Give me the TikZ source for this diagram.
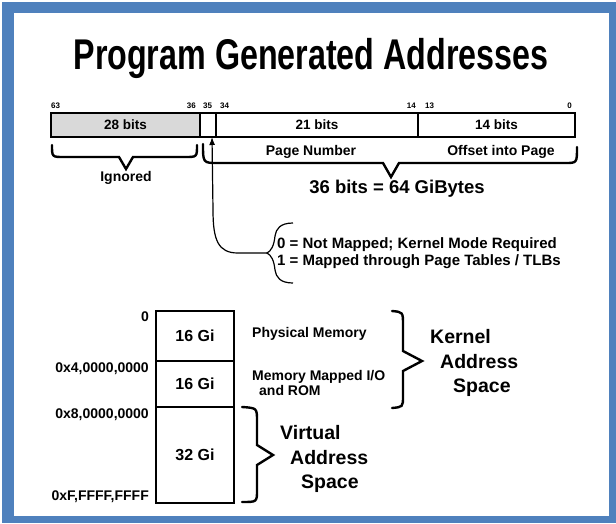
\documentclass[tikz,border=0pt]{standalone}
\usepackage{fontspec}
\setmainfont{Liberation Sans}
\usetikzlibrary{arrows.meta,positioning}
\definecolor{frameblue}{RGB}{79,129,189}
\tikzset{
	field/.style={draw, line width=1.5pt, outer sep=0pt, inner sep=0pt, minimum height=24pt, font=\fontsize{13.5}{16}\bfseries},
	cell/.style={draw, line width=1.2pt, outer sep=0pt, inner sep=0pt, minimum width=78pt, font=\fontsize{16}{18}\bfseries},
	bitno/.style={inner sep=0pt, font=\fontsize{8}{9}\bfseries},
	lbl/.style={inner sep=0pt, font=\fontsize{14}{16}\bfseries},
	addr/.style={inner sep=0pt, anchor=east, font=\fontsize{14}{16}\bfseries},
	side/.style={inner sep=0pt, anchor=west, align=left, font=\fontsize{19.5}{24.5}\bfseries},
	brace/.style={line width=2.4pt, line cap=round},
	outline/.style={line width=2.6pt}
}

\begin{document}
\begin{tikzpicture}[x=1pt, y=-1pt]
			%%%%% START %%%%%
			
			\fill[white] (0,0) rectangle (616,523);
			\fill[frameblue] (2,2) rectangle (616,523);
			\fill[white] (14,13) rectangle (609,516);
			\useasboundingbox (0,0) rectangle (616,523);
			
			\node[inner sep=0pt, anchor=base, font=\fontsize{43}{43}\bfseries] (title) at (311,69) {\scalebox{0.75}[1]{Program Generated Addresses}};
			
			% the address register
			\node[field, fill=black!15, minimum width=149pt] (ign) at (125.5,125) {28 bits};
			\node[field, minimum width=16pt, right=0pt of ign] (b35) {};
			\node[field, minimum width=202pt, right=0pt of b35] (pgn) {21 bits};
			\node[field, minimum width=157pt, right=0pt of pgn] (ofs) {14 bits};
			
			\node[bitno, anchor=base west] (n63) at (51,108) {63};
			\node[bitno, anchor=base east] (n36) at (196,108) {36};
			\node[bitno, anchor=base west] (n35) at (203,108) {35};
			\node[bitno, anchor=base west] (n34) at (220,108) {34};
			\node[bitno, anchor=base east] (n14) at (416,108) {14};
			\node[bitno, anchor=base west] (n13) at (425,108) {13};
			\node[bitno, anchor=base east] (n0) at (572,108) {0};
			
			\draw[brace] (52,145) .. controls (52,157) .. (64,157) -- (119,157) -- (126,169) -- (133,157) -- (185,157) .. controls (197,157) .. (197,145);
			\node[lbl] (ignl) at (126,178) {Ignored};
			
			\draw[brace] (203,144) .. controls (203,163) .. (218,163) -- (383,163) -- (391,177) -- (399,163) -- (565,163) .. controls (577,163) .. (577,147);
			\node[lbl] (pnl) at (311,152) {Page Number};
			\node[lbl] (ofl) at (501,152) {Offset into Page};
			\node[inner sep=0pt, font=\fontsize{18.5}{20}\bfseries] (size) at (397,189) {36 bits = 64 GiBytes};
			
			% bit 35
			\coordinate (tip) at (267,253);
			\draw[line width=1.2pt] (293,223) .. controls (280,223) and (276,229) .. (275,236) .. controls (274,246) and (271,251) .. (tip) .. controls (271,255) and (274,260) .. (275,270) .. controls (276,277) and (280,283) .. (293,283);
			\node[lbl, anchor=west, align=left, font=\fontsize{15}{17}\bfseries] (flag) at (277,253.5) {0 = Not Mapped; Kernel Mode Required\\1 = Mapped through Page Tables / TLBs};
			\draw[line width=1.2pt, -{Latex[length=8pt,width=6pt]}] (tip) -- (238,253) .. controls (218,253) and (213,240) .. (213,210) -- ([xshift=4pt]b35.south);
			
			% the address space
			\node[cell, minimum height=50pt] (pm) at (195,336) {16 Gi};
			\node[cell, minimum height=46pt, below=0pt of pm] (io) {16 Gi};
			\node[cell, minimum height=96pt, below=0pt of io] (va) {32 Gi};
			\draw[outline] (pm.north west) rectangle (va.south east);
			\draw[outline] (va.north west) -- (va.north east);
			
			\node[addr] (a0) at (149,317) {0};
			\node[addr] (a4) at (149,369) {0x4,0000,0000};
			\node[addr] (a8) at (149,415) {0x8,0000,0000};
			\node[addr] (af) at (149,497) {0xF,FFFF,FFFF};
			
			\node[lbl, anchor=west] (pml) at (252,334) {Physical Memory};
			\node[lbl, anchor=west, align=left, font=\fontsize{14}{14.5}\bfseries] (iol) at (252,383) {Memory Mapped I/O\\\hspace*{7pt}and ROM};
			
			\draw[brace] (392,311) .. controls (403,312) .. (403,325) -- (403,351) -- (422,361) -- (403,371) -- (403,396) .. controls (403,407) .. (392,408);
			\node[side] (kas) at (430,363) {Kernel\\\hspace*{10pt}Address\\\hspace*{23pt}Space};
			
			\draw[brace] (242,407) .. controls (257,408) .. (257,421) -- (257,445) -- (273,455) -- (257,465) -- (257,490) .. controls (257,502) .. (242,502);
			\node[side] (vas) at (280,459) {Virtual\\\hspace*{10pt}Address\\\hspace*{21pt}Space};
			
			%%%%% END %%%%%
\end{tikzpicture}
\end{document}
